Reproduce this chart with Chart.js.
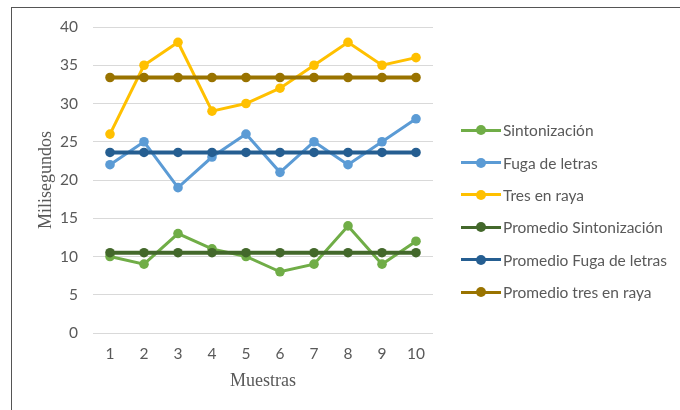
<!DOCTYPE html>
<html>
<head>
<meta charset="utf-8">
<script src="https://cdn.jsdelivr.net/npm/chart.js@4"></script>
<style>
  body { margin: 0; background: #fff; }
  #wrap { position: relative; width: 680px; height: 410px; overflow: hidden; }
  #frame { position: absolute; left: 11px; top: 7px; width: 680px; height: 410px;
           border-left: 1px solid #555; border-top: 1px solid #555; }
  canvas { position: absolute; left: 0; top: 0; }
  #legend { position: absolute; left: 461px; top: 114px; font: 15.5px Lato, sans-serif; color: #595959; }
  .item { height: 32.4px; display: flex; align-items: center; white-space: nowrap; }
  .sym { position: relative; width: 40px; height: 10px; margin-right: 2px; }
  .sym .ln { position: absolute; left: 0; right: 0; top: 3.5px; height: 3px; }
  .sym .dt { position: absolute; left: 15px; top: 0; width: 10px; height: 10px; border-radius: 50%; }
</style>
</head>
<body>
<div id="wrap">
  <div id="frame"></div>
  <canvas id="chart" width="680" height="410"></canvas>
  <div id="legend"></div>
</div>
<script>
// Data
const muestras = ['1', '2', '3', '4', '5', '6', '7', '8', '9', '10'];
const sintonizacion = [10, 9, 13, 11, 10, 8, 9, 14, 9, 12];
const fugaLetras = [22, 25, 19, 23, 26, 21, 25, 22, 25, 28];
const tresEnRaya = [26, 35, 38, 29, 30, 32, 35, 38, 35, 36];
const promSintonizacion = [10.5, 10.5, 10.5, 10.5, 10.5, 10.5, 10.5, 10.5, 10.5, 10.5];
const promFuga = [23.6, 23.6, 23.6, 23.6, 23.6, 23.6, 23.6, 23.6, 23.6, 23.6];
const promTres = [33.4, 33.4, 33.4, 33.4, 33.4, 33.4, 33.4, 33.4, 33.4, 33.4];
const yTicks = [0, 5, 10, 15, 20, 25, 30, 35, 40];

const series = [
    { label: 'Sintonización', data: sintonizacion, color: '#70ad47', width: 3, order: 1 },
    { label: 'Fuga de letras', data: fugaLetras, color: '#5b9bd5', width: 3, order: 1 },
    { label: 'Tres en raya', data: tresEnRaya, color: '#ffc000', width: 3, order: 1 },
    { label: 'Promedio Sintonización', data: promSintonizacion, color: '#43682b', width: 4, order: 0 },
    { label: 'Promedio Fuga de letras', data: promFuga, color: '#255e91', width: 4, order: 0 },
    { label: 'Promedio tres en raya', data: promTres, color: '#997300', width: 4, order: 0 }
];

const grey = '#595959';

new Chart(document.getElementById('chart'), {
    type: 'line',
    data: {
        labels: muestras,
        datasets: series.map(s => ({
            label: s.label,
            data: s.data,
            borderColor: s.color,
            backgroundColor: s.color,
            borderWidth: s.width,
            pointRadius: 4.8,
            pointBorderWidth: 0,
            pointBackgroundColor: s.color,
            tension: 0,
            order: s.order
        }))
    },
    options: {
        responsive: false,
        animation: false,
        layout: { padding: { left: 0, top: 27, right: 247, bottom: 0 } },
        plugins: { legend: { display: false }, tooltip: { enabled: false } },
        scales: {
            x: {
                offset: true,
                grid: { display: false, drawTicks: false },
                border: { display: false },
                ticks: { color: grey, font: { family: 'Lato', size: 15.5 }, padding: 12 },
                title: { display: true, text: 'Muestras', color: grey,
                         font: { family: 'Liberation Serif', size: 18 }, padding: { top: 0, bottom: 18 } },
                afterFit: scale => { scale.height = 77; }
            },
            y: {
                min: 0, max: 40,
                afterBuildTicks: scale => { scale.ticks = yTicks.map(v => ({ value: v })); },
                grid: { color: '#d9d9d9', lineWidth: 1, drawTicks: false },
                border: { display: false },
                ticks: { color: grey, font: { family: 'Lato', size: 15.5 }, padding: 15 },
                title: { display: true, text: 'Milisegundos', color: grey,
                         font: { family: 'Liberation Serif', size: 18 }, padding: { top: 35, bottom: 0 } },
                afterFit: scale => { scale.width = 93; }
            }
        }
    }
});

// Legend
const legend = document.getElementById('legend');
series.forEach(s => {
    const row = document.createElement('div');
    row.className = 'item';
    row.innerHTML = `<span class="sym"><span class="ln" style="background:${s.color}"></span><span class="dt" style="background:${s.color}"></span></span><span>${s.label}</span>`;
    legend.appendChild(row);
});
</script>
</body>
</html>
